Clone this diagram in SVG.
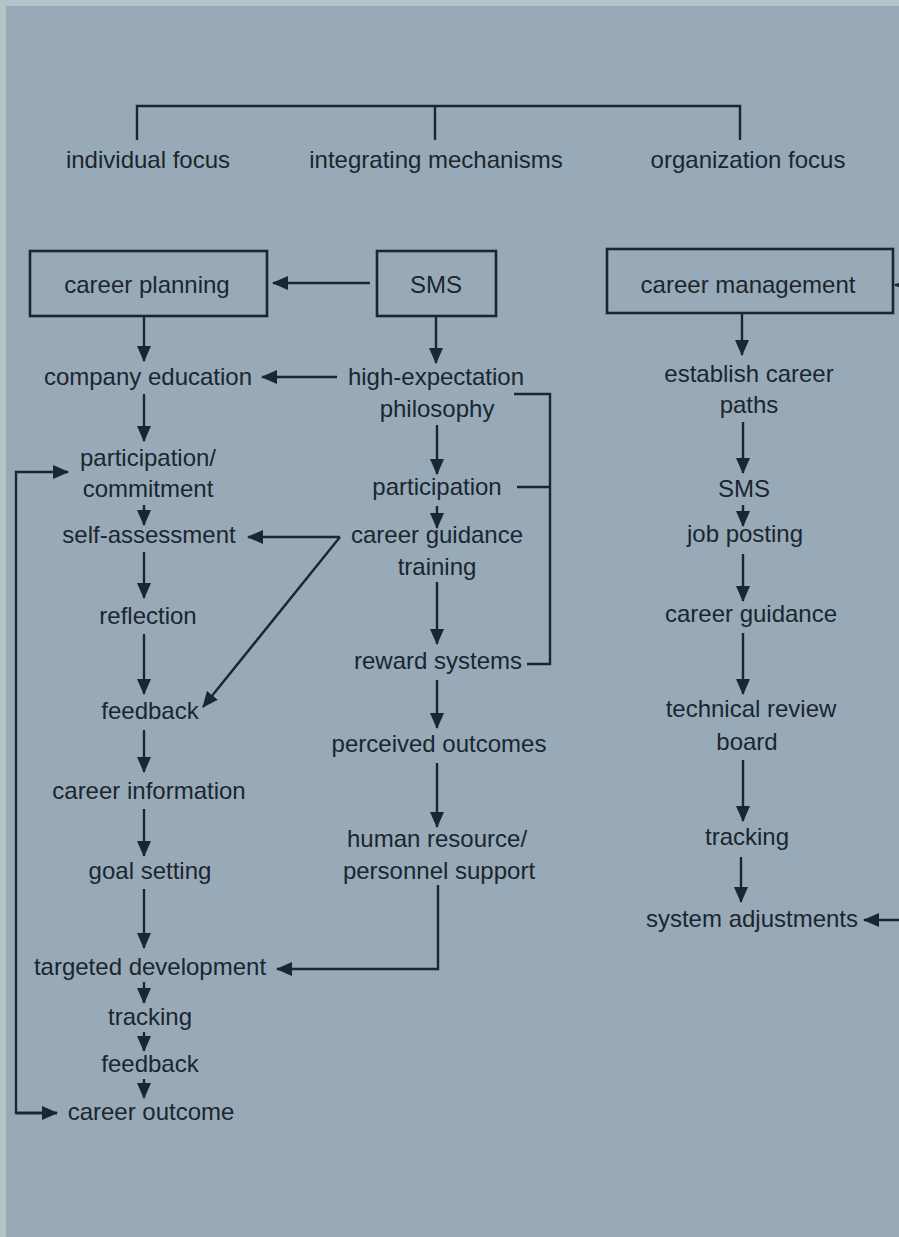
<svg xmlns="http://www.w3.org/2000/svg" width="899" height="1237" viewBox="0 0 899 1237">
<defs>
<style>
text{font-family:"Liberation Sans",Arial,sans-serif;font-size:24px;fill:#1a2630;text-anchor:middle}
.ln{fill:none;stroke:#1a2630;stroke-width:2.4}
.bx{fill:none;stroke:#1a2630;stroke-width:2.6}
.ar{fill:none;stroke:#1a2630;stroke-width:2.4;marker-end:url(#ah)}
</style>
<marker id="ah" markerUnits="userSpaceOnUse" markerWidth="16" markerHeight="14" viewBox="0 0 16 14" refX="15" refY="7" orient="auto">
<path d="M0,0 L16,7 L0,14 Z" fill="#1a2630"/>
</marker>
</defs>
<rect x="0" y="0" width="899" height="1237" fill="#98aab7"/>
<rect x="0" y="0" width="899" height="6" fill="#b2c4cc"/>
<rect x="0" y="0" width="6" height="1237" fill="#b2c6c6"/>

<g id="headers">
<path class="ln" d="M137,140 V106 H740 V140 M435,106 V140"/>
<text x="148" y="168">individual focus</text>
<text x="436" y="168">integrating mechanisms</text>
<text x="748" y="168">organization focus</text>
</g>

<g id="career-planning"><rect class="bx" x="30" y="251" width="237" height="65"/><text x="147" y="293">career planning</text></g>
<g id="sms-box"><rect class="bx" x="377" y="251" width="119" height="65"/><text x="436" y="293">SMS</text></g>
<g id="career-management"><rect class="bx" x="607" y="249" width="286" height="64"/><text x="748" y="293">career management</text></g>

<g id="company-education"><text x="148" y="385">company education</text></g>
<g id="participation-commitment"><text x="148" y="466">participation/</text><text x="148" y="497">commitment</text></g>
<g id="self-assessment"><text x="149" y="543">self-assessment</text></g>
<g id="reflection"><text x="148" y="624">reflection</text></g>
<g id="feedback-1"><text x="150" y="719">feedback</text></g>
<g id="career-information"><text x="149" y="799">career information</text></g>
<g id="goal-setting"><text x="150" y="879">goal setting</text></g>
<g id="targeted-development"><text x="150" y="975">targeted development</text></g>
<g id="tracking-1"><text x="150" y="1025">tracking</text></g>
<g id="feedback-2"><text x="150" y="1072">feedback</text></g>
<g id="career-outcome"><text x="151" y="1120">career outcome</text></g>

<g id="high-expectation"><text x="436" y="385">high-expectation</text><text x="437" y="417">philosophy</text></g>
<g id="participation"><text x="437" y="495">participation</text></g>
<g id="career-guidance-training"><text x="437" y="543">career guidance</text><text x="437" y="575">training</text></g>
<g id="reward-systems"><text x="438" y="669">reward systems</text></g>
<g id="perceived-outcomes"><text x="439" y="752">perceived outcomes</text></g>
<g id="human-resource"><text x="437" y="847">human resource/</text><text x="439" y="879">personnel support</text></g>

<g id="establish-career-paths"><text x="749" y="382">establish career</text><text x="749" y="413">paths</text></g>
<g id="sms-2"><text x="744" y="497">SMS</text></g>
<g id="job-posting"><text x="745" y="542">job posting</text></g>
<g id="career-guidance-2"><text x="751" y="622">career guidance</text></g>
<g id="technical-review-board"><text x="751" y="717">technical review</text><text x="747" y="750">board</text></g>
<g id="tracking-2"><text x="747" y="845">tracking</text></g>
<g id="system-adjustments"><text x="752" y="927">system adjustments</text></g>

<g id="connectors">
<line class="ar" x1="144" y1="316" x2="144" y2="361"/>
<line class="ar" x1="144" y1="394" x2="144" y2="441"/>
<line class="ar" x1="144" y1="505" x2="144" y2="525"/>
<line class="ar" x1="144" y1="552" x2="144" y2="598"/>
<line class="ar" x1="144" y1="634" x2="144" y2="694"/>
<line class="ar" x1="144" y1="730" x2="144" y2="772"/>
<line class="ar" x1="144" y1="809" x2="144" y2="856"/>
<line class="ar" x1="144" y1="889" x2="144" y2="948"/>
<line class="ar" x1="144" y1="982" x2="144" y2="1003"/>
<line class="ar" x1="144" y1="1032" x2="144" y2="1051"/>
<line class="ar" x1="144" y1="1079" x2="144" y2="1098"/>
<path class="ar" d="M57,1113 H16 V472 H68"/>
<path class="ar" d="M16,1113 H57"/>
<line class="ar" x1="370" y1="283" x2="273" y2="283"/>
<line class="ar" x1="337" y1="377" x2="262" y2="377"/>
<path class="ar" d="M340,537 H248"/>
<path class="ar" d="M340,537 L203,707"/>
<path class="ar" d="M438,885 V969 H277"/>
<line class="ar" x1="436" y1="316" x2="436" y2="363"/>
<line class="ar" x1="437" y1="425" x2="437" y2="474"/>
<line class="ar" x1="437" y1="506" x2="437" y2="528"/>
<line class="ar" x1="437" y1="582" x2="437" y2="644"/>
<line class="ar" x1="437" y1="680" x2="437" y2="728"/>
<line class="ar" x1="437" y1="763" x2="437" y2="827"/>
<path class="ln" d="M514,394 H550 V664 H527 M517,487 H550"/>
<line class="ar" x1="742" y1="313" x2="742" y2="355"/>
<line class="ar" x1="743" y1="422" x2="743" y2="473"/>
<line class="ar" x1="743" y1="505" x2="743" y2="526"/>
<line class="ar" x1="743" y1="554" x2="743" y2="601"/>
<line class="ar" x1="743" y1="633" x2="743" y2="694"/>
<line class="ar" x1="743" y1="760" x2="743" y2="821"/>
<line class="ar" x1="741" y1="857" x2="741" y2="902"/>
<line class="ar" x1="915" y1="285" x2="895" y2="285"/>
<line class="ar" x1="910" y1="920" x2="864" y2="920"/>
</g>
</svg>
